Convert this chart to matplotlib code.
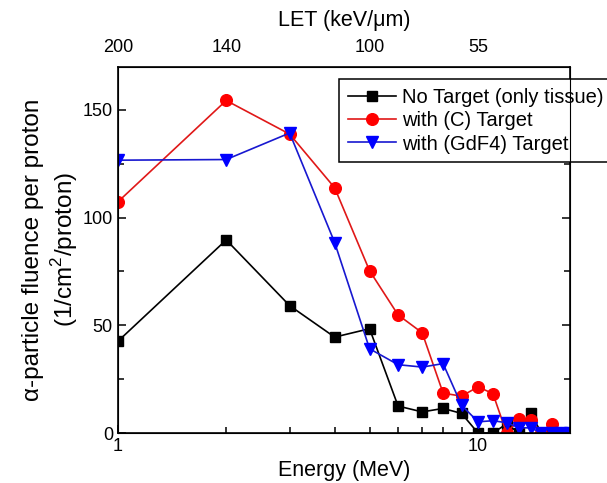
import matplotlib.pyplot as plt
import numpy as np

plt.rcParams['font.family'] = ['Liberation Sans', 'DejaVu Sans']
plt.rcParams['mathtext.fontset'] = 'custom'
plt.rcParams['mathtext.rm'] = 'Liberation Sans'

# Data
energy = [1, 2, 3, 4, 5, 6, 7, 8, 9, 10, 11, 12, 13, 14, 15, 16, 17, 18]

no_target = [42.5, 89.6, 59.1, 44.5, 48.4, 12.5, 9.8, 11.4, 9.1, 0, 0, 4.2, 0, 9.1, 0, 0, 0, 0]
c_target = [107.2, 154.3, 138.7, 113.8, 75.3, 54.8, 46.5, 18.5, 17.1, 21.4, 18.3, 0, 6.3, 6.0, 0, 4.0, 0, 0]
gdf4_target = [126.6, 126.9, 139.2, 88.4, 39.1, 31.7, 30.6, 32.2, 12.9, 5.2, 5.7, 4.8, 2.4, 2.4, 0, 0, 0, 0]

let_energy = [1, 2, 5, 10]
let_labels = ['200', '140', '100', '55']

fig = plt.figure(figsize=(6.07, 4.83), dpi=100)
ax = fig.add_axes([0.194, 0.1035, 0.745, 0.7585])

ax.plot(energy, no_target, color='black', marker='s', ms=7.4, lw=1.2,
        label='No Target (only tissue)')
ax.plot(energy, c_target, color='#e01818', mfc='red', mec='red', marker='o', ms=8.4, lw=1.2,
        label='with (C) Target')
ax.plot(energy, gdf4_target, color='#1818d0', mfc='blue', mec='blue', marker='v', ms=9.2, lw=1.2,
        label='with (GdF4) Target')

ax.set_xscale('log')
ax.set_xlim(1, 18)
ax.set_ylim(0, 170)
ax.set_xticks([1, 10])
ax.set_xticklabels(['1', '10'])
ax.set_xticks([2, 3, 4, 5, 6, 7, 8, 9], minor=True)
ax.set_xticklabels([], minor=True)
ax.set_yticks([0, 50, 100, 150])
ax.set_yticks([25, 75, 125], minor=True)
ax.tick_params(which='both', direction='in', labelsize=13, right=True, top=False, width=1.1)
ax.tick_params(which='major', length=6)
ax.tick_params(which='minor', length=4)
for s in ax.spines.values():
    s.set_linewidth(1.2)

ax.set_xlabel('Energy (MeV)', fontsize=15.5, labelpad=4)
ax.set_ylabel('\u03b1-particle fluence per proton\n(1/cm$^2$/proton)', fontsize=17.5, labelpad=2,
              linespacing=1.2)

# top axis with LET
ax2 = ax.twiny()
ax2.set_xscale('log')
ax2.set_xlim(ax.get_xlim())
ax2.set_xticks(let_energy)
ax2.set_xticklabels(let_labels)
ax2.set_xticks([], minor=True)
ax2.tick_params(axis='x', length=0, pad=8, labelsize=13)
ax2.set_xlabel('LET (keV/\u03bcm)', fontsize=15.5, labelpad=9)

leg = ax.legend(loc='upper right', bbox_to_anchor=(1.008, 0.836), bbox_transform=fig.transFigure,
                fontsize=14.5, frameon=True, fancybox=False, framealpha=1, edgecolor='black',
                handlelength=2.4, labelspacing=0.22, borderpad=0.42, handletextpad=0.3,
                borderaxespad=0)
leg.get_frame().set_linewidth(1.1)
leg.set_zorder(5)

plt.savefig('out.png', dpi=100)
